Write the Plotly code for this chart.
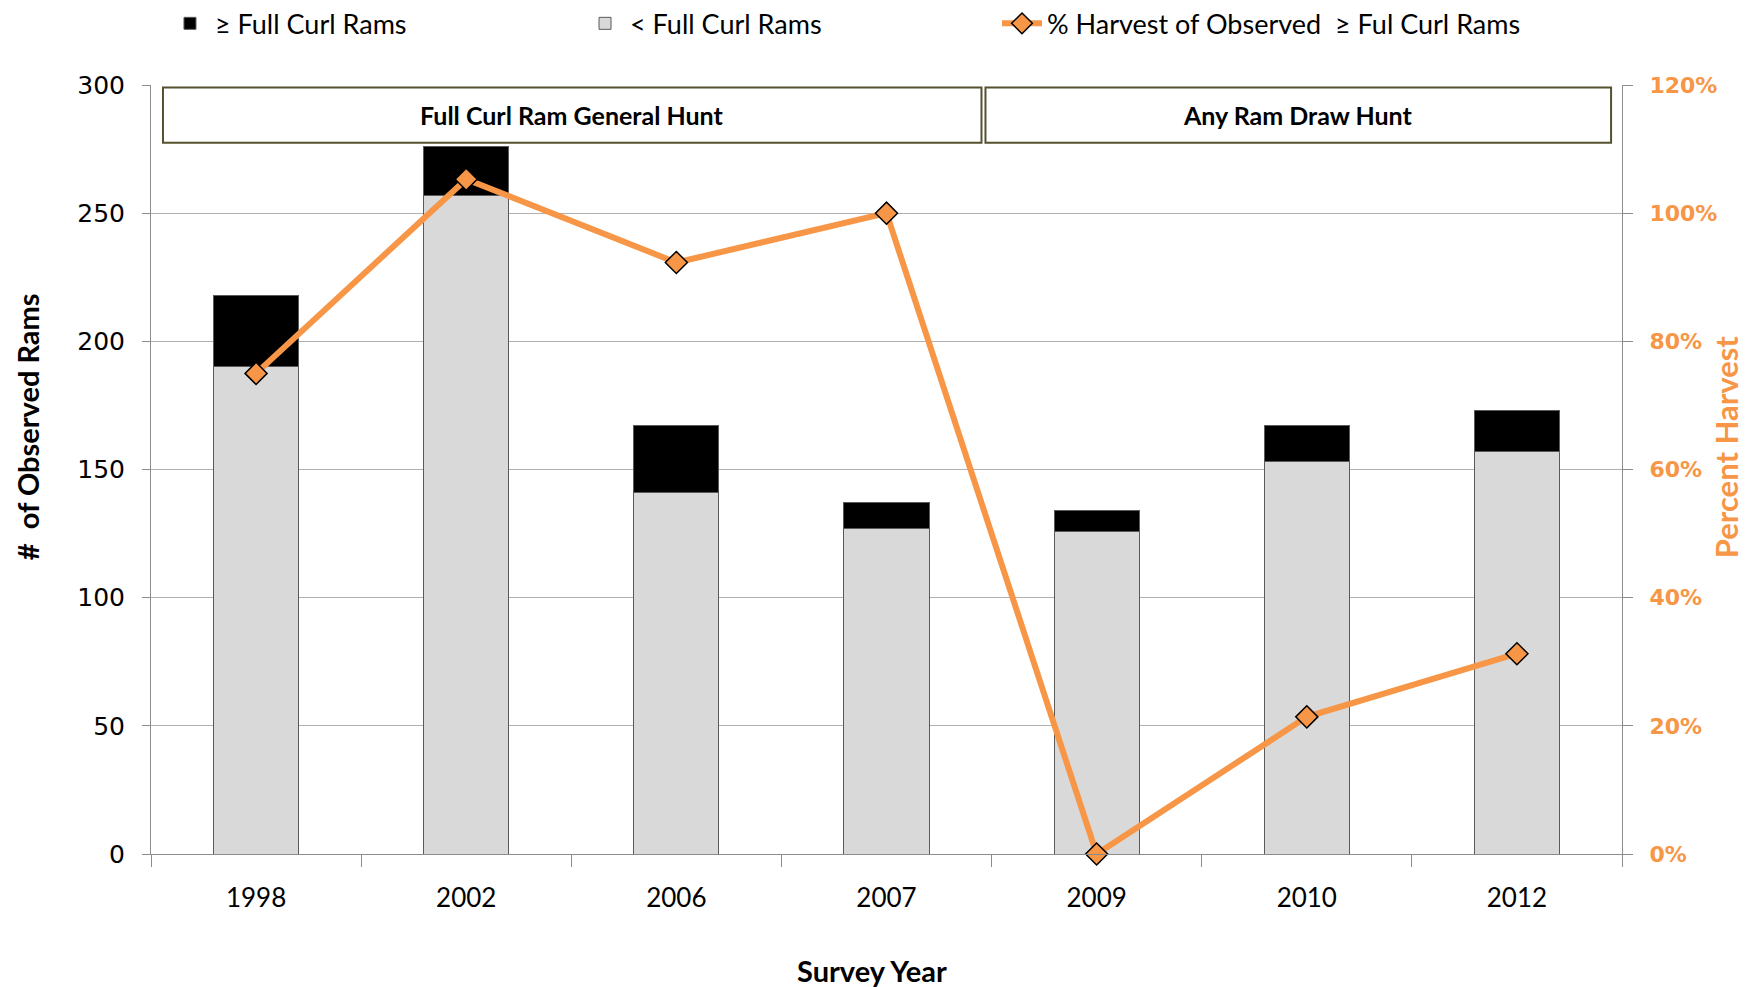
import plotly.graph_objects as go

# survey data
years = ["1998", "2002", "2006", "2007", "2009", "2010", "2012"]
full_curl = [28, 19, 26, 10, 8, 14, 16]
sub_full_curl = [190, 257, 141, 127, 126, 153, 157]
pct_harvest = [0.75, 1.053, 0.923, 1.00, 0.0, 0.214, 0.3125]

y_ticks = [0, 50, 100, 150, 200, 250, 300]
pct_ticks = [0, 0.2, 0.4, 0.6, 0.8, 1.0, 1.2]

ORANGE = "#F79646"
GRID = "#b0b0b0"
AXIS = "#8c8c8c"
TXT_FONT = "Lato"
NUM_FONT = "DejaVu Sans"

fig = go.Figure()
fig.add_trace(go.Bar(
    x=years, y=sub_full_curl, name="< Full Curl Rams", legend="legend2",
    marker=dict(color="#D9D9D9", line=dict(color="#5a5a5a", width=1)),
))
fig.add_trace(go.Bar(
    x=years, y=full_curl, name="\u2265 Full Curl Rams", legend="legend",
    marker=dict(color="#000000", line=dict(color="#5a5a5a", width=1)),
))
fig.add_trace(go.Scatter(
    x=years, y=pct_harvest, yaxis="y2", legend="legend3",
    name="% Harvest of Observed \u00a0\u2265 Ful Curl Rams",
    mode="lines+markers", cliponaxis=False,
    line=dict(color=ORANGE, width=6),
    marker=dict(symbol="diamond", size=17, color=ORANGE,
                line=dict(color="#000000", width=1.5)),
))

# hunt-type boxes along the top of the plot
boxes = [
    ("Full Curl Ram General Hunt", -0.443, 3.452),
    ("Any Ram Draw Hunt", 3.471, 6.448),
]
for label, x0, x1 in boxes:
    fig.add_shape(type="rect", xref="x", yref="y", x0=x0, x1=x1, y0=277.5, y1=299,
                  fillcolor="white", line=dict(color="#55512f", width=2), layer="above")
    fig.add_annotation(text=label, xref="x", yref="y", x=(x0 + x1) / 2, y=288.3,
                       showarrow=False,
                       font=dict(family=TXT_FONT, size=25, color="black", weight="bold"))

# axis titles
fig.add_annotation(text="#\u00a0 of Observed Rams", xref="paper", yref="paper",
                   x=0, y=0.555, xshift=-124, xanchor="center", yanchor="middle",
                   textangle=-90, showarrow=False,
                   font=dict(family=TXT_FONT, size=29, color="black", weight="bold"))
fig.add_annotation(text="Percent Harvest", xref="paper", yref="paper",
                   x=1, y=0.529, xshift=104, xanchor="center", yanchor="middle",
                   textangle=-90, showarrow=False,
                   font=dict(family=TXT_FONT, size=31, color=ORANGE, weight="bold"))
fig.add_annotation(text="Survey Year", xref="paper", yref="paper",
                   x=0.5, y=0, xshift=-15, yshift=-116, xanchor="center", yanchor="middle",
                   showarrow=False,
                   font=dict(family=TXT_FONT, size=29, color="black", weight="bold"))

leg_common = dict(
    orientation="h", xref="container", yref="container",
    y=0.984, xanchor="left", yanchor="middle",
    font=dict(family=TXT_FONT, size=27, color="black"),
    itemwidth=40, bgcolor="rgba(0,0,0,0)",
)

fig.update_layout(
    width=1752, height=987,
    margin=dict(l=143, r=138, t=77, b=141, autoexpand=False),
    paper_bgcolor="white", plot_bgcolor="white",
    barmode="stack", bargap=0.595,
    showlegend=True,
    legend=dict(x=0.0896, **leg_common),
    legend2=dict(x=0.3265, **leg_common),
    legend3=dict(x=0.5645, **leg_common),
    xaxis=dict(
        type="category", showgrid=False,
        showline=True, linecolor=AXIS, linewidth=1,
        ticks="outside", tickson="boundaries", ticklen=12, tickcolor=AXIS,
        tickfont=dict(family=TXT_FONT, size=26, color="black"),
        ticklabelstandoff=21,
    ),
    yaxis=dict(
        range=[0, 300], tickvals=y_ticks,
        showgrid=True, gridcolor=GRID, gridwidth=1,
        showline=True, linecolor=AXIS, linewidth=1,
        ticks="outside", ticklen=8, tickcolor=AXIS,
        tickfont=dict(family=NUM_FONT, size=25, color="black"),
        ticklabelstandoff=12, zeroline=False,
    ),
    yaxis2=dict(
        overlaying="y", side="right", range=[0, 1.2], tickvals=pct_ticks,
        tickformat=".0%", showgrid=False,
        showline=True, linecolor=AXIS, linewidth=1,
        ticks="outside", ticklen=10, tickcolor=AXIS,
        tickfont=dict(family=NUM_FONT, size=22, color=ORANGE, weight="bold"),
        ticklabelstandoff=12, zeroline=False,
    ),
)

fig.write_html("out.html")
